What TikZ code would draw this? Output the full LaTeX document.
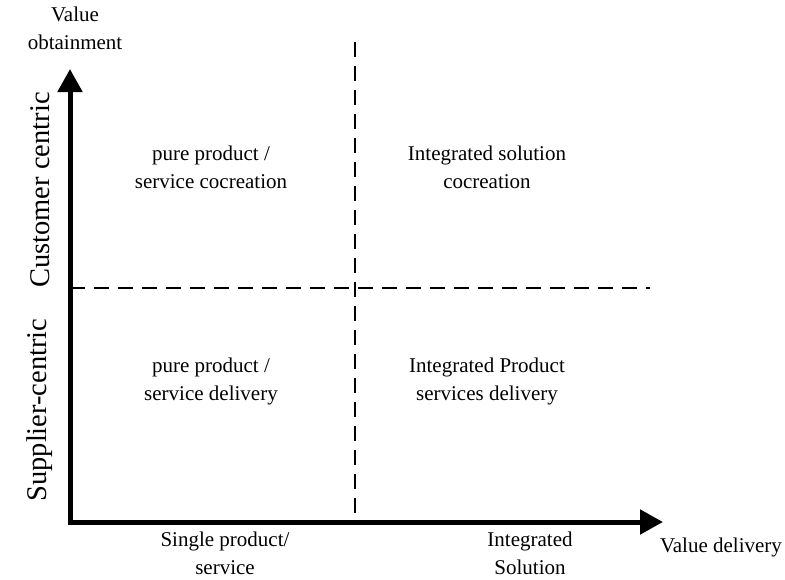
\documentclass[tikz,border=0pt]{standalone}
\usepackage{fontspec}
\setmainfont{Liberation Serif}
\usetikzlibrary{positioning, arrows.meta}

\begin{document}
\begin{tikzpicture}[x=1pt, y=-1pt,
    axis/.style={line width=5pt, {Triangle[length=23pt,width=24pt]}-{Triangle[length=23pt,width=24pt]}},
    divider/.style={line width=1.3pt, dash pattern=on 15pt off 9pt},
    quad/.style={align=center, font=\fontsize{21}{28}\selectfont},
    axlabel/.style={align=center, inner sep=0pt, font=\fontsize{21}{28}\selectfont},
    sidelabel/.style={rotate=90, font=\fontsize{28.5}{32}\selectfont}]
    \useasboundingbox (0,0) rectangle (785,579);
    % Axes
    \coordinate (O) at (70,522);
    \coordinate (ytip) at (70,69);
    \coordinate (xtip) at (663,522);
    \draw [axis] (ytip) -- (O) -- (xtip);
    % Quadrant dividers
    \coordinate (vtop) at (355,42);
    \coordinate (vbot) at (355,522);
    \coordinate (hleft) at (70,288);
    \coordinate (hright) at (650,288);
    \draw [divider] (vtop) -- (vbot);
    \draw [divider] (hleft) -- (hright);
    % Quadrants
    \node (cocreate) [quad] at (211,167) {pure product /\\service cocreation};
    \node (intcocreate) [quad] at (487,167) {Integrated solution\\cocreation};
    \node (deliver) [quad] at (211,381) {pure product /\\service delivery};
    \node (intdeliver) [quad] at (487,381) {Integrated Product\\services delivery};
    % Axis labels
    \node (yname) [axlabel] at (75,28) {Value\\obtainment};
    \node (xname) [axlabel] at (721,547) {Value delivery};
    \node (single) [axlabel] at (225,553) {Single product/\\service};
    \node (integrated) [axlabel] at (530,553) {Integrated\\Solution};
    \node (customer) [sidelabel] at (40,190) {Customer centric};
    \node (supplier) [sidelabel] at (40,410) {Supplier-centric};
\end{tikzpicture}
\end{document}
